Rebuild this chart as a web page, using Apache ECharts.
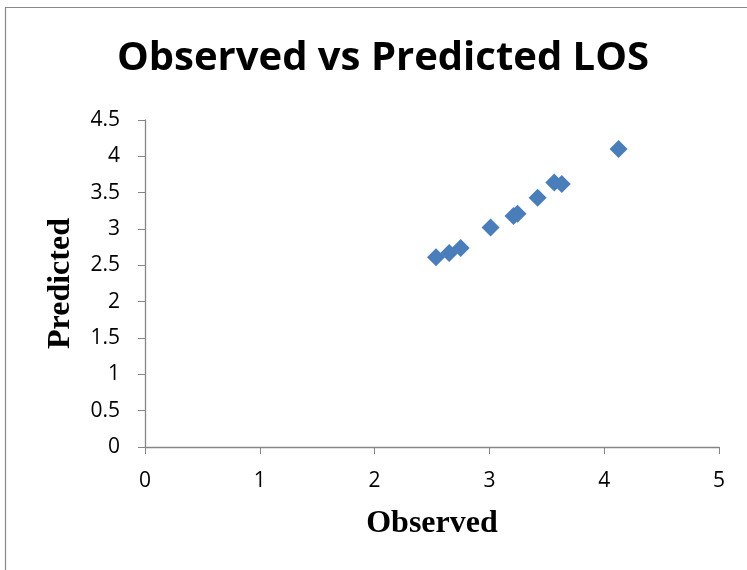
<!DOCTYPE html>
<html><head><meta charset="utf-8">
<script src="https://cdn.jsdelivr.net/npm/echarts@6/dist/echarts.min.js"></script>
<style>html,body{margin:0;padding:0;background:#fff}#c{width:747px;height:570px}</style>
</head><body><div id="c"></div>
<script>
const observed = [2.535, 2.65, 2.75, 3.01, 3.21, 3.245, 3.42, 3.565, 3.63, 4.125];
const predicted = [2.61, 2.67, 2.74, 3.02, 3.18, 3.21, 3.43, 3.64, 3.62, 4.10];
const xTicks = [0, 1, 2, 3, 4, 5];
const yTicks = [0, 0.5, 1, 1.5, 2, 2.5, 3, 3.5, 4, 4.5];
const titleText = 'Observed vs Predicted LOS';
const xName = 'Observed';
const yName = 'Predicted';

const chart = echarts.init(document.getElementById('c'), null, {renderer: 'canvas'});
const tickFont = {fontFamily: 'Open Sans', fontSize: 21, color: '#000'};
chart.setOption({
  animation: false,
  backgroundColor: '#fff',
  graphic: [{type: 'rect', shape: {x: 5.5, y: 7.5, width: 760, height: 580}, style: {fill: 'none', stroke: '#888', lineWidth: 1.2}, silent: true}],
  title: {text: titleText, left: 378, top: 34, textAlign: 'center',
    textStyle: {fontFamily: 'Open Sans', fontWeight: 'bold', fontSize: 40, color: '#000'}},
  grid: {left: 145, right: 28, top: 120, bottom: 123},
  xAxis: {type: 'value', min: xTicks[0], max: xTicks[xTicks.length - 1], interval: 1,
    name: xName, nameLocation: 'middle', nameGap: 61,
    nameTextStyle: {fontFamily: 'Liberation Serif', fontWeight: 'bold', fontSize: 32, color: '#000'},
    axisLine: {lineStyle: {color: '#868686', width: 1.3}},
    axisTick: {show: true, length: 7, lineStyle: {color: '#868686'}},
    axisLabel: Object.assign({margin: 24}, tickFont),
    splitLine: {show: false}},
  yAxis: {type: 'value', min: yTicks[0], max: yTicks[yTicks.length - 1], interval: 0.5,
    name: yName, nameLocation: 'middle', nameGap: 68, nameRotate: 90,
    nameTextStyle: {fontFamily: 'Liberation Serif', fontWeight: 'bold', fontSize: 32, color: '#000'},
    axisLine: {show: true, lineStyle: {color: '#868686', width: 1.3}},
    axisTick: {show: true, length: 7, lineStyle: {color: '#868686'}},
    axisLabel: Object.assign({margin: 25}, tickFont),
    splitLine: {show: false}},
  series: [{type: 'scatter', symbol: 'diamond', symbolSize: 18,
    itemStyle: {color: '#4a7ebb', opacity: 1},
    data: observed.map((x, i) => [x, predicted[i]])}]
});
</script></body></html>
